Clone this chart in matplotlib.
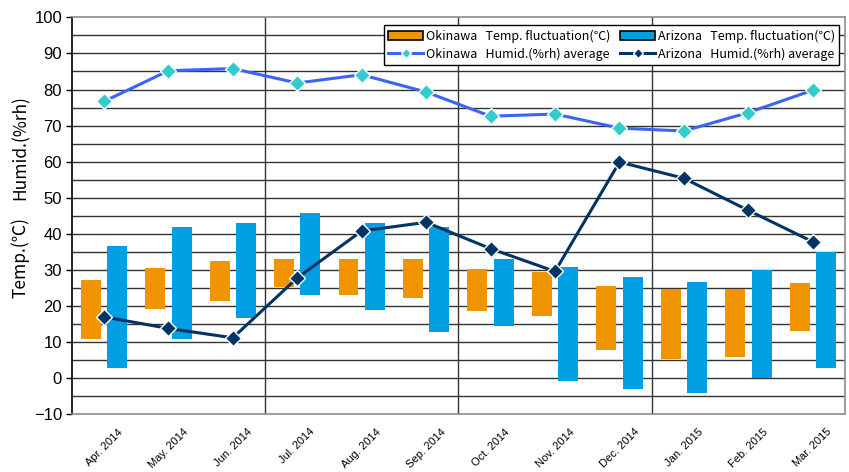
"""Okinawa vs Arizona: monthly temperature range bars and humidity averages."""

import matplotlib

matplotlib.use("Agg")
import matplotlib.pyplot as plt
import numpy as np
from matplotlib.patches import Patch
from matplotlib.lines import Line2D

months = ["Apr. 2014", "May. 2014", "Jun. 2014", "Jul. 2014", "Aug. 2014", "Sep. 2014",
          "Oct. 2014", "Nov. 2014", "Dec. 2014", "Jan. 2015", "Feb. 2015", "Mar. 2015"]

# temperature range (low, high) in degC
okinawa_low = [11.0, 19.3, 21.5, 25.2, 23.1, 22.3, 18.5, 17.3, 7.7, 5.4, 6.0, 13.2]
okinawa_high = [27.3, 30.6, 32.6, 32.9, 33.1, 32.9, 30.4, 29.3, 25.6, 24.8, 24.8, 26.5]
arizona_low = [2.7, 11.0, 16.8, 23.0, 18.8, 12.9, 14.6, -0.9, -3.0, -4.0, 0.2, 2.9]
arizona_high = [36.7, 42.0, 42.9, 45.9, 42.9, 42.0, 32.9, 30.9, 28.0, 26.8, 30.0, 34.9]

# monthly humidity averages in %rh
okinawa_humid = [76.7, 85.2, 85.8, 81.8, 84.1, 79.3, 72.6, 73.2, 69.3, 68.5, 73.6, 79.8]
arizona_humid = [17.0, 13.8, 11.2, 27.8, 40.8, 43.2, 35.9, 29.6, 59.9, 55.4, 46.5, 37.8]

ORANGE = "#F09400"
BLUE = "#009FE3"
OKI_LINE = "#3B63F5"
OKI_MARK = "#33CCCC"
AZ_LINE = "#003366"
JP_FONT = ["Noto Sans CJK JP", "DejaVu Sans"]

fig = plt.figure(figsize=(8.49, 4.72), dpi=100)
ax = fig.add_axes([0.0845, 0.1222, 0.9108, 0.8411])

x = np.arange(len(months))
ok_lo = np.array(okinawa_low)
ok_hi = np.array(okinawa_high)
az_lo = np.array(arizona_low)
az_hi = np.array(arizona_high)

# grid every 5 and quarter separators
for yv in np.arange(-5, 100, 5):
    ax.axhline(yv, color="#333333", lw=1.0, zorder=0)
for xv in (2.5, 5.5, 8.5):
    ax.axvline(xv, color="#333333", lw=1.0, zorder=0)

w = 0.31
ax.bar(x - 0.205, ok_hi - ok_lo, bottom=ok_lo, width=w, color=ORANGE, zorder=2)
ax.bar(x + 0.205, az_hi - az_lo, bottom=az_lo, width=w, color=BLUE, zorder=2)

ax.plot(x, okinawa_humid, color=OKI_LINE, lw=2.2, marker="D", ms=8.5,
        mfc=OKI_MARK, mec="white", mew=1.0, zorder=3)
ax.plot(x, arizona_humid, color=AZ_LINE, lw=2.2, marker="D", ms=8.5,
        mfc=AZ_LINE, mec="white", mew=1.0, zorder=3)

ax.set_xlim(-0.5, len(months) - 0.5)
ax.set_ylim(-10, 100)
ax.set_yticks(np.arange(-10, 101, 10))
ax.set_yticklabels([f"{v}" if v >= 0 else f"\u2212{abs(v)}" for v in range(-10, 101, 10)],
                   family="Liberation Sans", fontsize=12)
ax.tick_params(axis="y", direction="out", length=4, width=1, color="black", pad=3)
ax.set_xticks(x)
ax.set_xticklabels(months, rotation=45, ha="center", va="top", fontsize=8,
                   family="Liberation Sans")
ax.tick_params(axis="x", length=0, pad=9)

for side in ("top", "right", "bottom"):
    ax.spines[side].set_color("#8c8c8c")
    ax.spines[side].set_linewidth(1.2)
ax.spines["left"].set_color("black")
ax.spines["left"].set_linewidth(1.2)

fig.text(0.024, 0.688, "Humid.(%rh)", rotation=90, ha="center", va="center",
         fontsize=12.5, family=JP_FONT)
fig.text(0.024, 0.455, "Temp.(\u2103)", rotation=90, ha="center", va="center",
         fontsize=12.5, family=JP_FONT)

handles = [
    Patch(facecolor=ORANGE, edgecolor="black", lw=1.2),
    Line2D([], [], color=OKI_LINE, lw=2.2, marker="D", ms=5, mfc=OKI_MARK, mec="white"),
    Patch(facecolor=BLUE, edgecolor="black", lw=1.2),
    Line2D([], [], color=AZ_LINE, lw=2.2, marker="D", ms=5, mfc=AZ_LINE, mec="white"),
]
labels = [
    "Okinawa   Temp. fluctuation(\u2103)",
    "Okinawa   Humid.(%rh) average",
    "Arizona   Temp. fluctuation(\u2103)",
    "Arizona   Humid.(%rh) average",
]
leg = ax.legend(handles, labels, ncol=2, loc="upper right", bbox_to_anchor=(0.9925, 0.98),
                prop={"family": JP_FONT, "size": 9}, fancybox=False, framealpha=1,
                edgecolor="black", borderpad=0.35, labelspacing=0.35, handlelength=2.8,
                handletextpad=0.2, columnspacing=0.8, borderaxespad=0)
leg.get_frame().set_linewidth(1.0)
leg.set_zorder(5)

fig.savefig("out.png", dpi=100)
